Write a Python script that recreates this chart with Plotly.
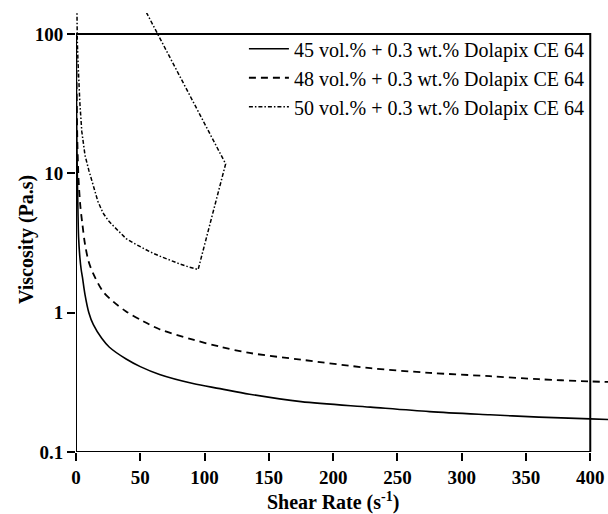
import plotly.graph_objects as go

# Data
shear_45 = [0.25, 0.5, 1, 1.5, 2, 3, 4, 5, 7, 10, 13.5, 20, 26, 39, 50, 65, 91, 112, 135, 175, 229, 275, 322, 360, 400, 415]
visc_45 = [60, 25, 10, 5.5, 3.5, 2.5, 2.05, 1.8, 1.35, 1.0, 0.82, 0.655, 0.565, 0.465, 0.41, 0.36, 0.31, 0.285, 0.26, 0.23, 0.21, 0.195, 0.185, 0.178, 0.173, 0.171]

shear_48 = [0.25, 0.5, 1, 1.5, 2, 3.4, 5, 7, 10, 13.5, 21, 29, 39, 52, 65, 91, 112, 135, 175, 229, 275, 322, 360, 400, 415]
visc_48 = [100, 40, 18, 12, 9, 5.8, 4.3, 3.1, 2.3, 1.9, 1.42, 1.2, 1.02, 0.87, 0.76, 0.64, 0.57, 0.514, 0.46, 0.40, 0.37, 0.35, 0.333, 0.321, 0.318]

shear_50 = [0.2, 0.5, 1, 1.5, 2, 3, 4.5, 7, 10, 13.5, 17, 21, 25, 29, 34, 39, 45, 52, 58, 65, 72, 80, 87, 95, 116.4, 40]
visc_50 = [400, 150, 90, 65, 50, 32, 20, 13.5, 10.5, 8, 6.3, 5.2, 4.6, 4.2, 3.75, 3.4, 3.15, 2.9, 2.72, 2.55, 2.4, 2.25, 2.14, 2.04, 11.7, 260]

names = ["45 vol.% + 0.3 wt.% Dolapix CE 64",
         "48 vol.% + 0.3 wt.% Dolapix CE 64",
         "50 vol.% + 0.3 wt.% Dolapix CE 64"]

x_ticks = [0, 50, 100, 150, 200, 250, 300, 350, 400]
y_ticks = [0.1, 1, 10, 100]
y_ticktext = ["0.1", "1", "10", "100"]
x_title = "Shear Rate (s<sup>-1</sup>)"
y_title = "Viscosity (Pa.s)"

FONT = "Liberation Serif"

fig = go.Figure()
fig.add_trace(go.Scatter(x=shear_45, y=visc_45, mode="lines", name=names[0],
                         line=dict(color="black", width=1.6, shape="spline", smoothing=0.9)))
fig.add_trace(go.Scatter(x=shear_48, y=visc_48, mode="lines", name=names[1],
                         line=dict(color="black", width=1.8, dash="7px,5px", shape="spline", smoothing=0.9)))
fig.add_trace(go.Scatter(x=shear_50, y=visc_50, mode="lines", name=names[2],
                         line=dict(color="black", width=1.5, dash="4px,2px,1.5px,2px")))

# frame box from 0..400 and 0.1..100
fig.add_shape(type="rect", xref="x", yref="y", x0=0, x1=400, y0=0.1, y1=100,
              line=dict(color="black", width=2), layer="above")

# axis titles
fig.add_annotation(text=x_title, xref="x", yref="paper", x=200, y=-0.113,
                   xanchor="center", yanchor="middle", showarrow=False,
                   font=dict(family=FONT, size=20, weight="bold", color="black"))
fig.add_annotation(text=y_title, xref="paper", yref="paper", x=-0.0921, y=0.483,
                   xanchor="center", yanchor="middle", showarrow=False, textangle=-90,
                   font=dict(family=FONT, size=20, weight="bold", color="black"))

fig.update_layout(
    width=608, height=514, autosize=False,
    margin=dict(l=76, r=0, t=13, b=62, autoexpand=False),
    paper_bgcolor="white", plot_bgcolor="white",
    font=dict(family=FONT, color="black"),
    showlegend=True,
    legend=dict(x=0.966, y=0.963, xanchor="right", yanchor="top",
                bgcolor="rgba(0,0,0,0)", borderwidth=0,
                font=dict(family=FONT, size=20, color="black"),
                tracegroupgap=0, itemwidth=40),
    xaxis=dict(range=[0, 413.8], tickvals=x_ticks, ticks="outside", ticklen=8,
               tickwidth=2, tickcolor="black", showline=False, showgrid=False,
               zeroline=False, automargin=False,
               tickfont=dict(family=FONT, size=19, weight="bold", color="black")),
    yaxis=dict(type="log", range=[-1, 2.151], tickvals=y_ticks, ticktext=y_ticktext,
               ticks="outside", ticklen=8, tickwidth=2, tickcolor="black",
               showline=False, showgrid=False, zeroline=False, automargin=False,
               tickfont=dict(family=FONT, size=19, weight="bold", color="black")),
)

page_css = ("document.body.style.margin='0';"
            "document.body.style.overflow='hidden';"
            "document.documentElement.style.overflow='hidden';")

fig.write_html("out.html", post_script=page_css, config={"displayModeBar": False})
